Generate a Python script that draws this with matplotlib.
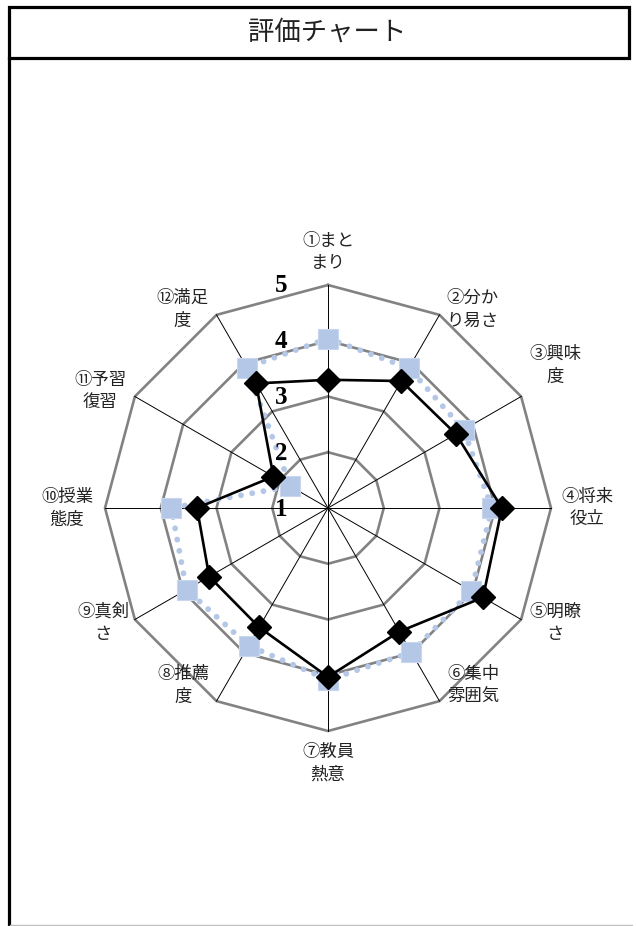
import numpy as np
import matplotlib
matplotlib.use("Agg")
import matplotlib.pyplot as plt
from matplotlib.patches import Rectangle
from matplotlib.lines import Line2D

plt.rcParams['font.family'] = ['Noto Sans CJK JP', 'DejaVu Sans']

# chart data
categories = ['①まと\nまり', '②分か\nり易さ', '③興味\n度', '④将来\n役立', '⑤明瞭\nさ', '⑥集中\n雰囲気',
              '⑦教員\n熱意', '⑧推薦\n度', '⑨真剣\nさ', '⑩授業\n態度', '⑪予習\n復習', '⑫満足\n度']
series_black = [3.30, 3.63, 3.65, 4.12, 4.21, 3.56, 4.03, 3.47, 3.46, 3.35, 2.13, 3.58]
series_blue = [4.04, 3.90, 3.81, 3.94, 3.97, 3.99, 4.08, 3.85, 3.93, 3.81, 1.78, 3.91]
r_ticks = [1, 2, 3, 4, 5]
r_min, r_max = 1, 5

# layout (pixels)
W, H = 636, 926
CX, CY = 328, 508
UNIT = 223 / (r_max - r_min)

fig = plt.figure(figsize=(W / 100, H / 100), dpi=100)
ax = fig.add_axes([0, 0, 1, 1])
ax.set_xlim(-CX / UNIT, (W - CX) / UNIT)
ax.set_ylim(-(H - CY) / UNIT, CY / UNIT)
ax.axis('off')

n = len(categories)
theta = np.arange(n) * 2 * np.pi / n


def to_xy(vals):
    rho = np.asarray(vals, dtype=float) - r_min
    x = rho * np.sin(theta)
    y = rho * np.cos(theta)
    return np.append(x, x[0]), np.append(y, y[0])


# grid rings
for t in r_ticks[1:]:
    gx, gy = to_xy([t] * n)
    ax.plot(gx, gy, color='#828282', lw=1.9, zorder=1)

# spokes
ox, oy = to_xy([r_max] * n)
for i in range(n):
    ax.plot([0, ox[i]], [0, oy[i]], color='black', lw=0.7, zorder=2)

# series
bx, by = to_xy(series_blue)
ax.plot(bx, by, color='#B4C7E7', lw=4.2, linestyle=(0, (0.01, 1.95)),
        dash_capstyle='round', zorder=3)
ax.plot(bx[:-1], by[:-1], 's', ms=14, color='#B4C7E7', mec='#C9D7EE', mew=0.8, zorder=4)

kx, ky = to_xy(series_black)
ax.plot(kx, ky, color='black', lw=1.9, zorder=5)
ax.plot(kx[:-1], ky[:-1], 'D', ms=12, color='black', zorder=6)

# radial tick labels
for t in r_ticks:
    ax.text(-47 / UNIT, (t - r_min) - 1 / UNIT, str(t), family='Liberation Serif',
            fontsize=18, fontweight='bold', ha='center', va='center', zorder=7)

# category labels (pixel offsets from centre)
label_xy = [(0, 256), (144, 199), (227, 143), (259, 0), (227, -115), (145, -177),
            (0, -255), (-145, -177), (-225, -115), (-261, 0), (-228, 117), (-146, 199)]
for lab, (px, py) in zip(categories, label_xy):
    ax.text(px / UNIT, py / UNIT, lab, ha='center', va='center', fontsize=12.5,
            linespacing=1.35, color='#222222')

# frame and title box
fig.add_artist(Rectangle((8.5 / W, 1 - 58 / H), 620 / W, 51.5 / H, transform=fig.transFigure,
                         fill=False, lw=2.3, ec='black'))
fig.add_artist(Line2D([8.5 / W, 8.5 / W], [1 - 58 / H, 0], transform=fig.transFigure,
                      lw=2.3, color='black'))
fig.add_artist(Line2D([10 / W, 632 / W], [1 - 925 / H, 1 - 925 / H], transform=fig.transFigure,
                      lw=1, color='#BFBFBF'))
fig.text(327 / W, 1 - 32 / H, '評価チャート', ha='center', va='center', fontsize=19,
         color='#222222')

fig.savefig('out.png', dpi=100)
